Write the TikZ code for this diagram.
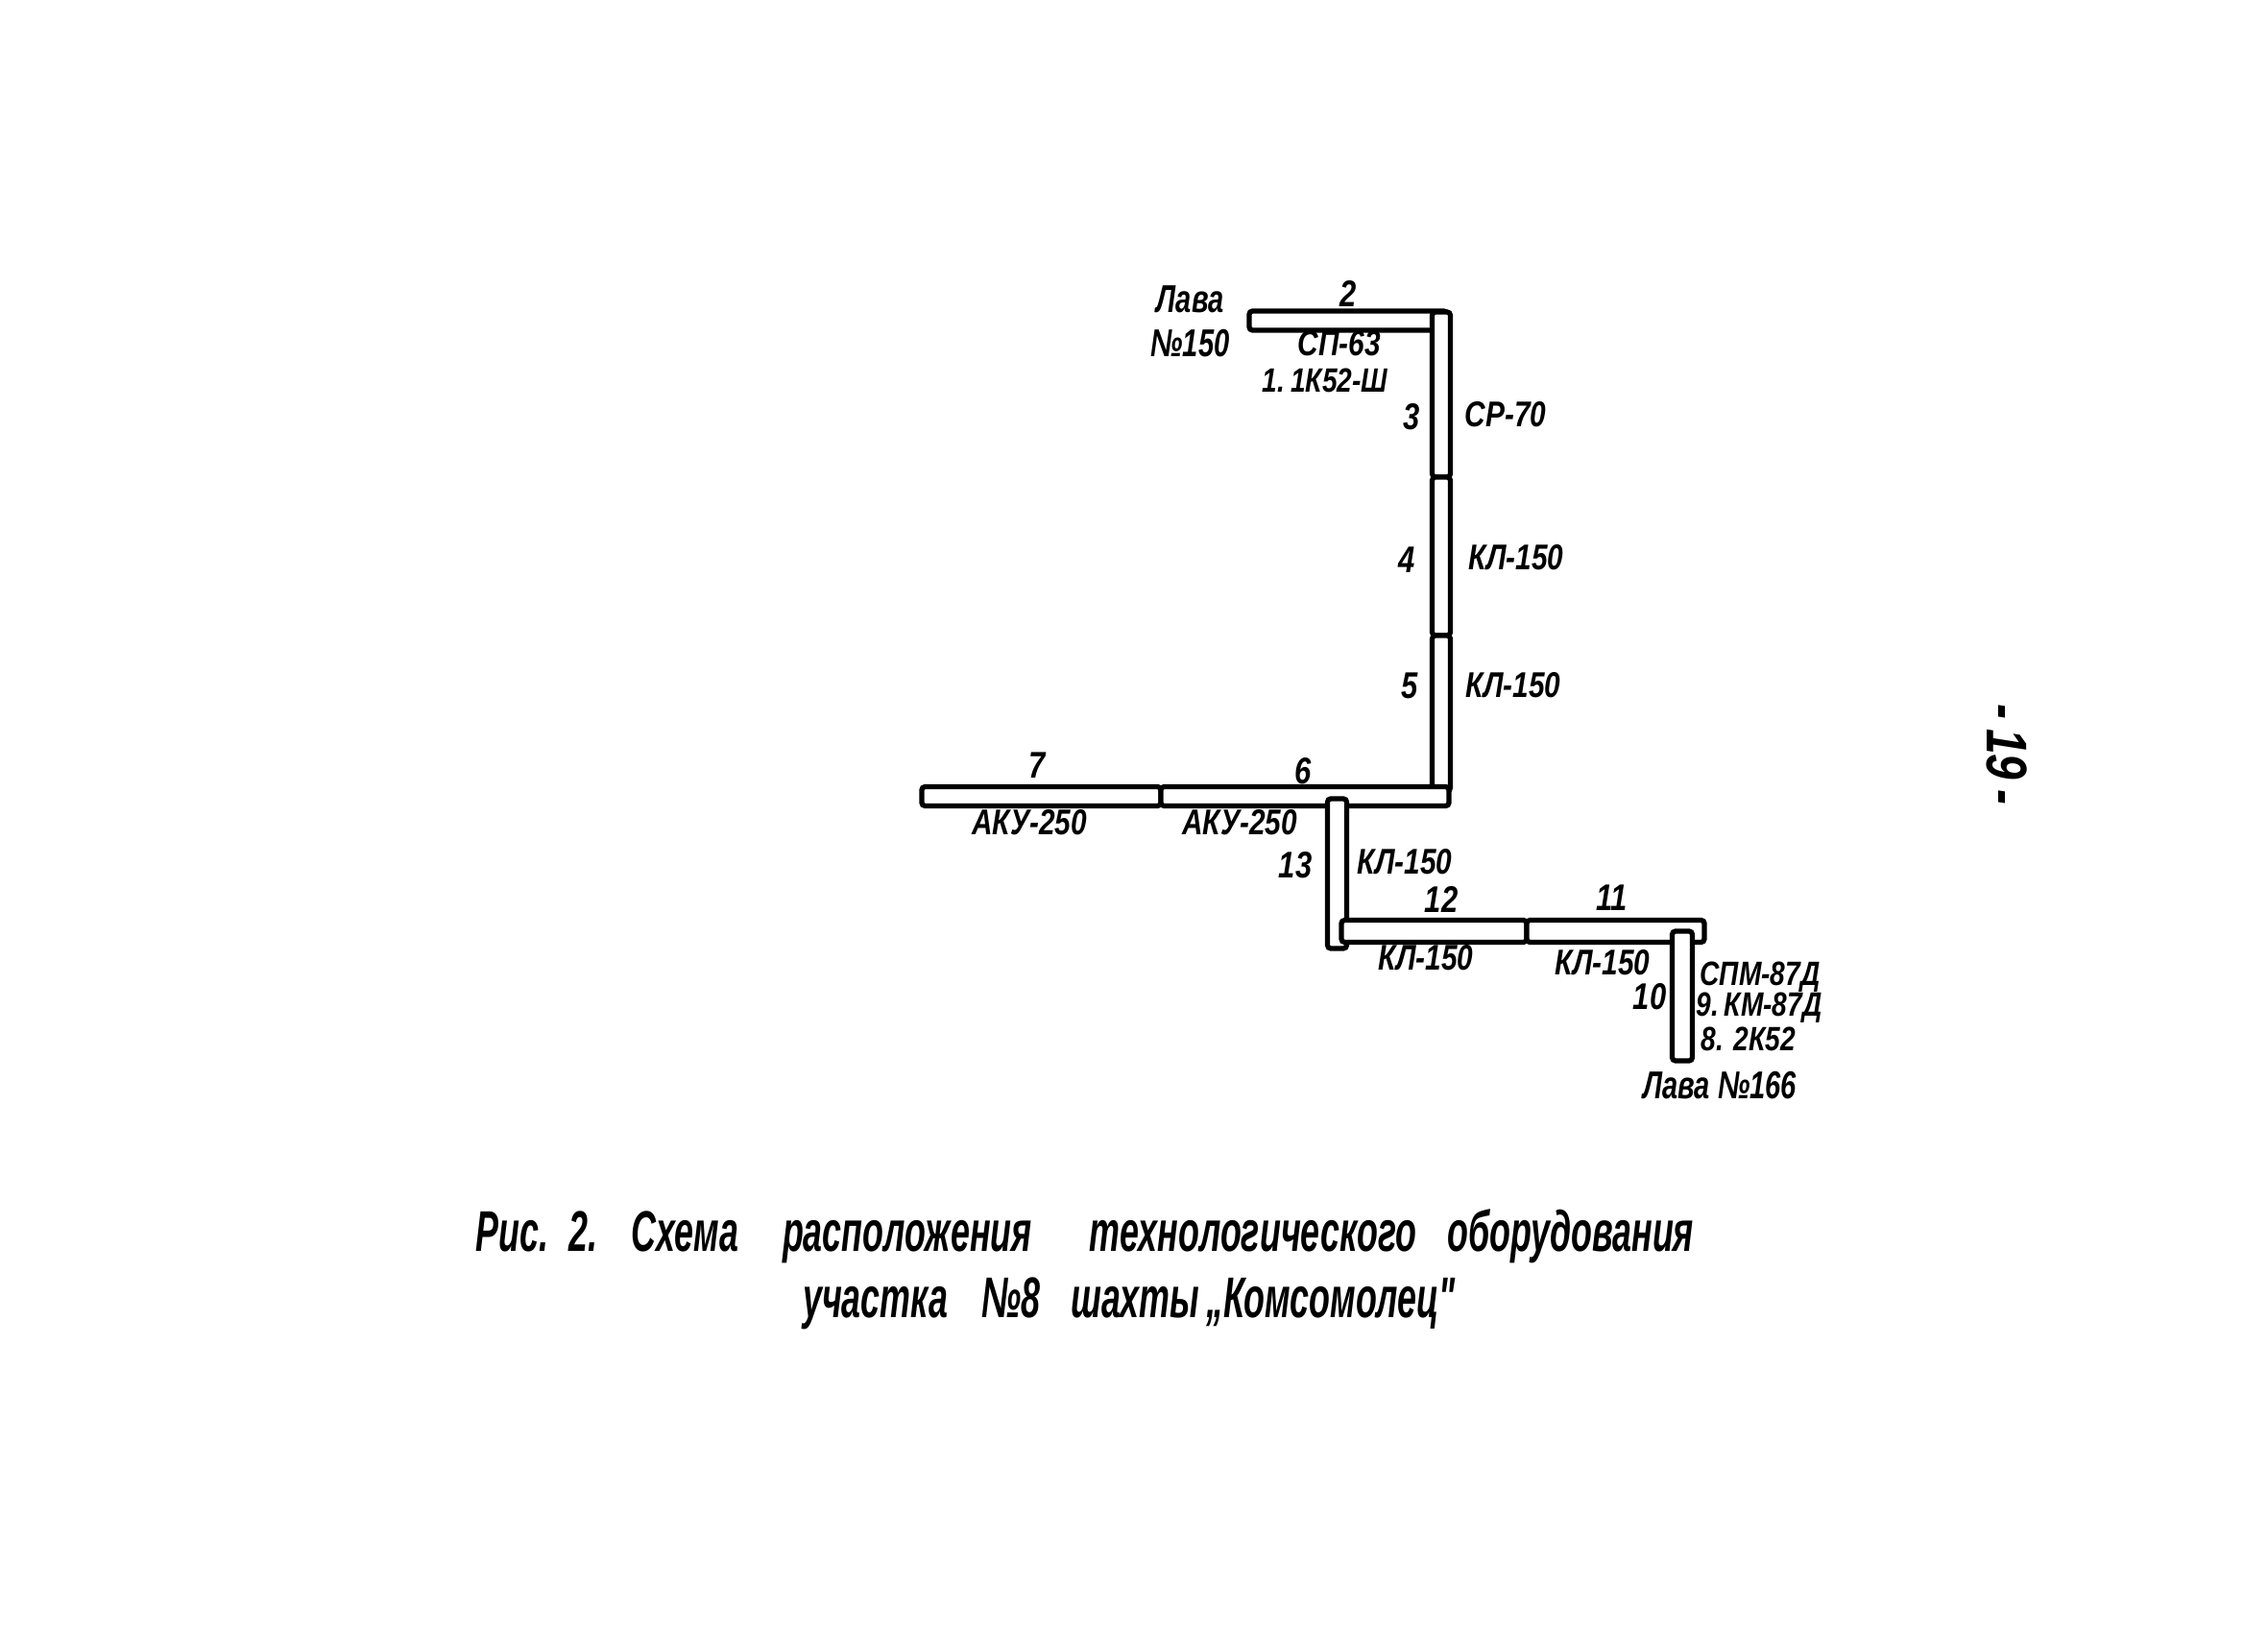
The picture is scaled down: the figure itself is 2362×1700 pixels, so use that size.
\documentclass[tikz,border=0pt]{standalone}
\usepackage{fontspec}
\setmainfont{Liberation Sans}[FakeStretch=0.8]
\newfontfamily\narrowfont{Liberation Sans}[FakeStretch=0.72]
\newfontfamily\captionfont{Liberation Sans}[FakeStretch=0.6]
\begin{document}
\begin{tikzpicture}[
  x=0.01cm, y=-0.01cm,
  every node/.style={inner sep=0pt, outer sep=0pt},
  belt/.style={draw, fill=white, line width=1.5pt, rounded corners=1pt},
  lbl/.style={font=\fontsize{10.6}{12}\selectfont\bfseries\itshape},
  lblstack/.style={font=\fontsize{10}{12}\selectfont\bfseries\itshape},
  num/.style={font=\fontsize{11}{13}\selectfont\bfseries\itshape},
  lava/.style={font=\narrowfont\fontsize{11.5}{13}\selectfont\bfseries\itshape, align=center},
  caption/.style={font=\captionfont\fontsize{17}{20}\selectfont\bfseries\itshape},
  pagelbl/.style={font=\fontsize{17}{20}\selectfont\bfseries\itshape}
]
  \useasboundingbox (0,0) rectangle (2362,1700);
  % belts, upper run
  \node[belt, minimum width=2.06cm, minimum height=0.20cm] (belt2) at (1404,334) {};
  \node[belt, minimum width=0.19cm, minimum height=1.72cm] (belt3) at (1501,411) {};
  \node[belt, minimum width=0.19cm, minimum height=1.65cm] (belt4) at (1501,579.5) {};
  \node[belt, minimum width=0.19cm, minimum height=1.62cm] (belt5) at (1501,743) {};
  \node[belt, minimum width=2.49cm, minimum height=0.20cm] (belt7) at (1084.5,829.5) {};
  \node[belt, minimum width=3.00cm, minimum height=0.20cm] (belt6) at (1359,829.5) {};
  % belts, lower run
  \node[belt, minimum width=0.20cm, minimum height=1.56cm] (belt13) at (1392.5,910) {};
  \node[belt, minimum width=1.93cm, minimum height=0.23cm] (belt12) at (1493.5,970) {};
  \node[belt, minimum width=1.85cm, minimum height=0.23cm] (belt11) at (1682.5,970) {};
  \node[belt, minimum width=0.21cm, minimum height=1.35cm] (belt10) at (1752,1037.5) {};
  % labels
  \node[lava] (lava150) at (1239.5,335) {Лава\\№150};
  \node[num] (num2) at (1404,306) {2};
  \node[lbl] (type2) at (1395,358) {СП-63};
  \node[lblstack] (type1) at (1380,396) {1.\,1К52-Ш};
  \node[num] (num3) at (1470,434) {3};
  \node[lbl] (type3) at (1568,432) {СР-70};
  \node[num] (num4) at (1465,583) {4};
  \node[lbl] (type4) at (1579,581) {КЛ-150};
  \node[num] (num5) at (1468,714) {5};
  \node[lbl] (type5) at (1576,714) {КЛ-150};
  \node[num] (num7) at (1080,797) {7};
  \node[num] (num6) at (1357,803) {6};
  \node[lbl] (type7) at (1072,857) {АКУ-250};
  \node[lbl] (type6) at (1291,857) {АКУ-250};
  \node[num] (num13) at (1349,901) {13};
  \node[lbl] (type13) at (1463,898) {КЛ-150};
  \node[num] (num12) at (1501,937) {12};
  \node[num] (num11) at (1679,935) {11};
  \node[lbl] (type12) at (1485,998) {КЛ-150};
  \node[lbl] (type11) at (1669,1003) {КЛ-150};
  \node[num] (num10) at (1718,1038) {10};
  \node[lblstack] (type10) at (1833,1018) {СПМ-87Д};
  \node[lblstack] (type9) at (1832,1050) {9.\,КМ-87Д};
  \node[lblstack] (type8) at (1821,1082) {8. 2К52};
  \node[lava] (lava166) at (1791,1131) {Лава №166};
  % caption and page number
  \node[caption] (captiona) at (1130,1288) {Рис.\hspace{6pt}2.\hspace{10pt}Схема\hspace{13pt}расположения\hspace{17pt}технологического\hspace{9pt}оборудования};
  \node[caption] (captionb) at (1176,1358) {участка\hspace{10pt}№8\hspace{9pt}шахты\hspace{2pt}„Комсомолец"};
  \node[pagelbl, rotate=-90] (pagenum) at (2090,786) {-\,19\,-};
\end{tikzpicture}
\end{document}
